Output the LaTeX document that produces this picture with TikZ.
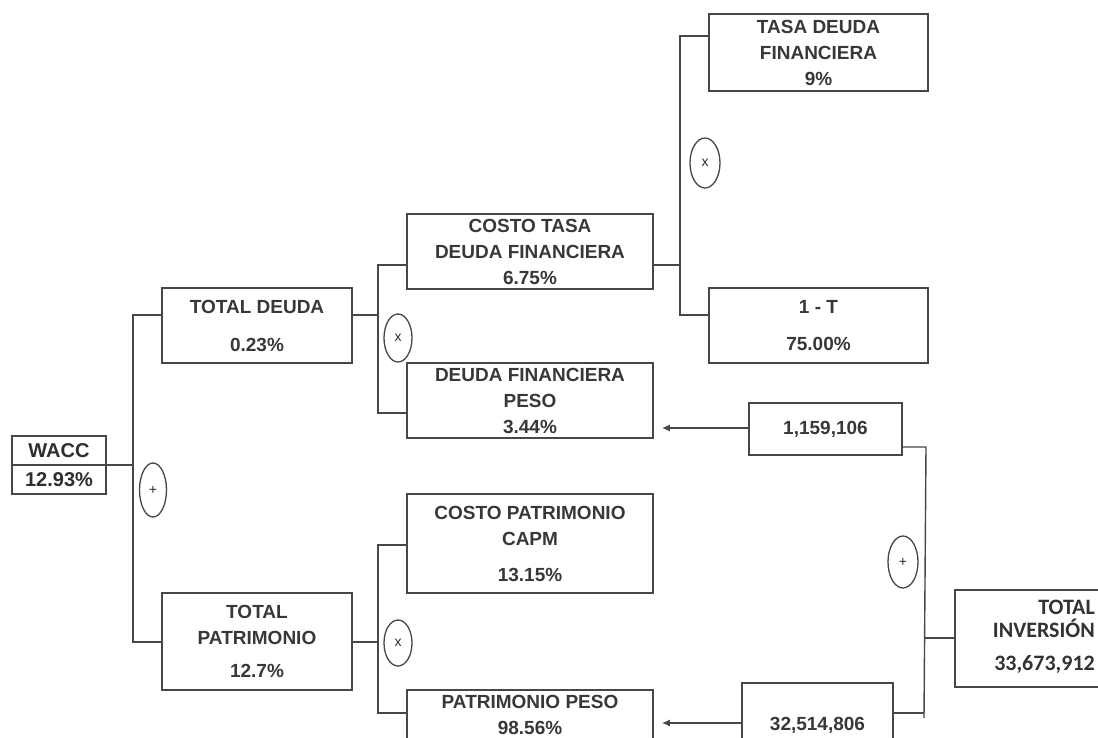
\documentclass[tikz,border=0pt]{standalone}
\usepackage{fontspec}
\setmainfont{Liberation Sans}
\newfontfamily\carl{Carlito}
\usetikzlibrary{shapes.geometric,shapes.multipart,arrows.meta}
\begin{document}
\begin{tikzpicture}[x=1pt,y=-1pt,
  line/.style={draw=black!72, line width=1.4pt},
  box/.style={draw=black!72, line width=1.6pt, rectangle, inner sep=0pt, align=center,
    text=black!78, font=\fontsize{19}{26}\bfseries\selectfont},
  op/.style={draw=black!72, line width=1.3pt, ellipse, inner sep=0pt,
    font=\fontsize{14}{14}\selectfont, text=black!82},
  arr/.style={line, -{Latex[length=8pt,width=7pt]}, shorten >=8pt}
]
\clip (0,0) rectangle (1098,737);
\fill[white] (0,0) rectangle (1098,737);

% boxes
\node[rectangle split, rectangle split parts=2, draw=black!72, line width=1.6pt,
  minimum width=94pt, inner ysep=6.5pt, text=black!82,
  font=\fontsize{20}{22}\bfseries\selectfont] (wacc) at (59,465) {WACC\nodepart{two}12.93\%};
\node[box, minimum width=190pt, minimum height=75pt] (td) at (257,325.5) {TOTAL DEUDA\\[12pt]0.23\%};
\node[box, minimum width=190pt, minimum height=97pt] (tp) at (257,641.5) {TOTAL\\PATRIMONIO\\[7pt]12.7\%};
\node[box, minimum width=246pt, minimum height=75pt] (ctdf) at (530,251.5) {COSTO TASA\\DEUDA FINANCIERA\\6.75\%};
\node[box, minimum width=246pt, minimum height=75pt] (dfp) at (530,400.5) {DEUDA FINANCIERA\\PESO\\3.44\%};
\node[box, minimum width=246pt, minimum height=99pt] (cpc) at (530,543.5) {COSTO PATRIMONIO\\CAPM\\[10pt]13.15\%};
\node[box, minimum width=246pt, minimum height=50pt] (pp) at (530,715) {PATRIMONIO PESO\\98.56\%};
\node[box, minimum width=219pt, minimum height=77pt] (tdf) at (818.5,52.5) {TASA DEUDA\\FINANCIERA\\9\%};
\node[box, minimum width=219pt, minimum height=75pt] (omt) at (818.5,325.5) {1 - T\\[11pt]75.00\%};
\node[box, minimum width=153pt, minimum height=52pt] (n1) at (825.5,429) {1,159,106};
\node[box, minimum width=151pt, minimum height=84pt] (n2) at (817.5,725) {32,514,806};
\node[box, minimum width=185pt, minimum height=97pt] (ti) at (1047.5,638.5) {};
\node[anchor=east, align=right, inner sep=0pt, text=black!80,
  font=\carl\fontsize{22}{23}\bfseries\selectfont] (tit) at (1095,637) {TOTAL\\INVERSIÓN\\[10pt]33,673,912};

% operators
\node[op, minimum width=27pt, minimum height=54pt] (opA) at (153,490) {+};
\node[op, minimum width=28pt, minimum height=48pt] (opB) at (398,338) {x};
\node[op, minimum width=30pt, minimum height=50pt] (opC) at (705,163) {x};
\node[op, minimum width=28pt, minimum height=46pt] (opD) at (398,643) {x};
\node[op, minimum width=30pt, minimum height=52pt] (opE) at (903,562) {+};

% connectors
\draw[line] (wacc.text split east) -- (wacc.text split east -| 133,0);
\draw[line] (td.west |- 0,315) -- (133,315) -- (133,642) -- (tp.west |- 0,642);

\draw[line] (td.east |- 0,315) -- (378,315);
\draw[line] (ctdf.west |- 0,265) -- (378,265) -- (378,413) -- (dfp.west |- 0,413);

\draw[line] (ctdf.east |- 0,265) -- (680,265);
\draw[line] (tdf.west |- 0,36) -- (680,36) -- (680,315) -- (omt.west |- 0,315);

\draw[line] (tp.east |- 0,642) -- (378,642);
\draw[line] (cpc.west |- 0,545) -- (378,545) -- (378,713) -- (pp.west |- 0,713);

\draw[line] (n1.east |- 0,447) -- (926,447) -- (924,718);
\draw[line] (n2.east |- 0,713) -- (924,713);
\draw[line] (924.5,638) -- (ti.west |- 0,638);

\draw[arr] (n1.west |- 0,428) -- (dfp.east |- 0,428);
\draw[arr] (n2.west |- 0,723) -- (pp.east |- 0,723);
\end{tikzpicture}
\end{document}
